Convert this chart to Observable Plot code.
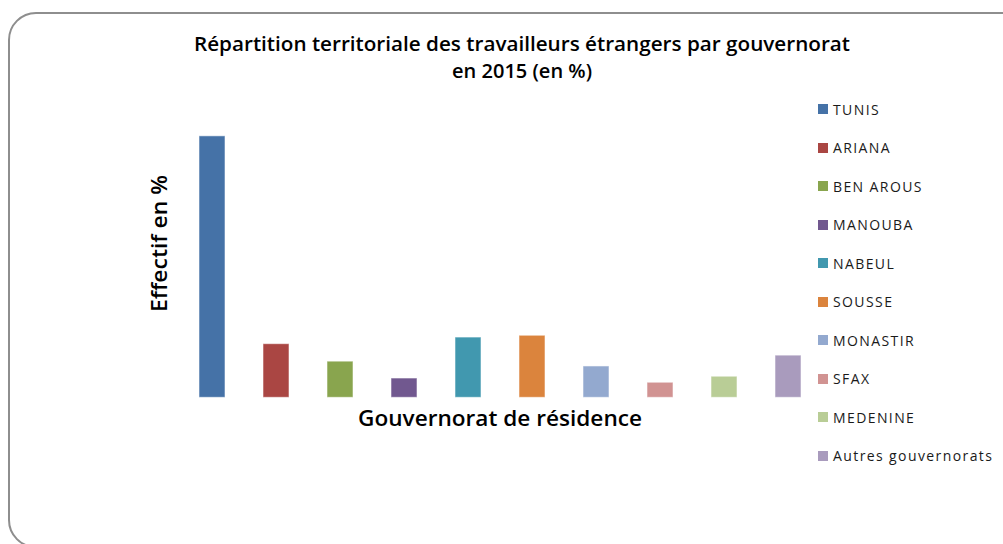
<!DOCTYPE html>
<html><head><meta charset="utf-8">
<script src="https://cdn.jsdelivr.net/npm/d3@7"></script>
<script src="https://cdn.jsdelivr.net/npm/@observablehq/plot@0.6"></script>
<style>
html,body{margin:0;padding:0;background:#fff;}
body{width:1003px;height:544px;overflow:hidden;position:relative;font-family:"Open Sans",sans-serif;color:#000;}
#frame{position:absolute;left:8px;top:12px;width:1040px;height:536px;border:2px solid #8e8e8e;border-radius:28px;box-sizing:border-box;}
#chart{position:absolute;left:0;top:0;}
.t{position:absolute;white-space:nowrap;transform-origin:0 0;line-height:1;}
.lg{position:absolute;left:818px;height:14px;display:flex;align-items:center;font-size:14px;letter-spacing:1.4px;color:#1a1a1a;white-space:nowrap;}
.sw{width:10px;height:10px;margin-right:5px;flex:none;}
</style></head><body>
<div id="frame"></div>
<div id="chart"></div>
<div id="title1" class="t" style="font-size:19px;font-weight:600">Répartition territoriale des travailleurs étrangers par gouvernorat</div>
<div id="title2" class="t" style="font-size:19px;font-weight:600">en 2015 (en %)</div>
<div id="xlab" class="t" style="font-size:21px;font-weight:600">Gouvernorat de résidence</div>
<div id="ylab" class="t" style="font-size:21px;font-weight:600">Effectif en %</div>
<div id="legend"></div>
<script>
const categories = ["TUNIS","ARIANA","BEN AROUS","MANOUBA","NABEUL","SOUSSE","MONASTIR","SFAX","MEDENINE","Autres gouvernorats"];
const values = [43.4, 8.9, 6.0, 3.2, 10.0, 10.3, 5.2, 2.5, 3.5, 7.0];
const colors = ["#4572A7","#AA4643","#89A54E","#71588F","#4198AF","#DB843D","#93A9CF","#D19392","#B9CD96","#A99BBD"];

const data = categories.map((c, i) => ({gouvernorat: c, valeur: values[i]}));

const plot = Plot.plot({
  width: 1003,
  height: 544,
  marginTop: 126.2,
  marginBottom: 146.7,
  marginLeft: 178,
  marginRight: 180.7,
  style: {background: "transparent", overflow: "visible"},
  x: {type: "band", domain: categories, paddingInner: 0.6, paddingOuter: 0.3, axis: null},
  y: {domain: [0, 45], axis: null},
  color: {domain: categories, range: colors},
  marks: [
    Plot.barY(data, {x: "gouvernorat", y: "valeur", fill: "gouvernorat", stroke: "#ffffff", strokeOpacity: 0.55, strokeWidth: 1})
  ]
});
document.getElementById("chart").appendChild(plot);

function fitH(id, cx, baseline, width) {
  const el = document.getElementById(id);
  const fs = parseFloat(el.style.fontSize);
  const w = el.getBoundingClientRect().width;
  const s = width / w;
  el.style.left = (cx - width / 2) + "px";
  el.style.top = (baseline - 0.888 * fs) + "px";
  el.style.transform = `scaleX(${s})`;
}
function fitV(id, baselineX, cy, length) {
  const el = document.getElementById(id);
  const fs = parseFloat(el.style.fontSize);
  const w = el.getBoundingClientRect().width;
  const s = length / w;
  el.style.left = (baselineX - 0.888 * fs) + "px";
  el.style.top = (cy + length / 2) + "px";
  el.style.transform = `rotate(-90deg) scaleX(${s})`;
}
fitH("title1", 522, 52, 656);
fitH("title2", 522, 79, 140);
fitH("xlab", 500, 427, 284);
fitV("ylab", 168, 243.5, 137);

const legend = document.getElementById("legend");
const color = plot.scale("color");
categories.forEach((c, i) => {
  const row = document.createElement("div");
  row.className = "lg";
  row.style.top = (109 + i * 38.55 - 7) + "px";
  const sw = document.createElement("div");
  sw.className = "sw";
  sw.style.background = color.apply(c);
  const tx = document.createElement("span");
  tx.textContent = c;
  row.appendChild(sw);
  row.appendChild(tx);
  legend.appendChild(row);
});
</script>
</body></html>
